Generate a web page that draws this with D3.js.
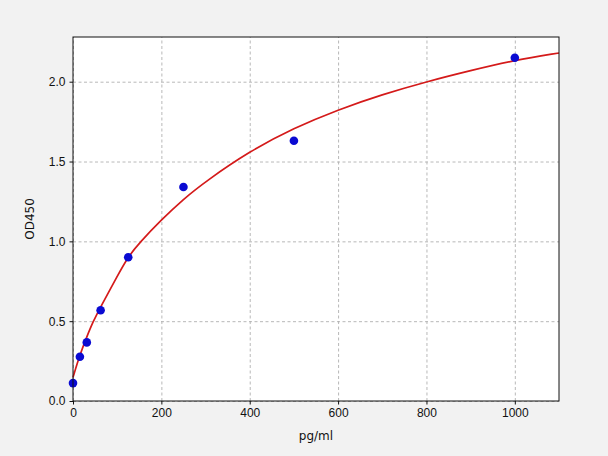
<!DOCTYPE html>
<html>
<head>
<meta charset="utf-8">
<script src="https://cdn.jsdelivr.net/npm/d3@7"></script>
<style>
  html, body { margin: 0; padding: 0; background: #f2f2f2; }
  svg { display: block; font-family: "DejaVu Sans", sans-serif; }
  .grid line { stroke: #b0b0b0; stroke-dasharray: 3,2.5; stroke-width: 0.9; }
  .grid path { display: none; }
  .tick text { font-size: 12px; fill: #111; }
</style>
</head>
<body>
<svg width="608" height="456"></svg>
<script>
// standard points
const conc = [0, 15.6, 31.25, 62.5, 125, 250, 500, 1000];
const od = [0.112, 0.277, 0.367, 0.568, 0.90, 1.34, 1.63, 2.15];

// fitted curve, sampled by eye along the red line
const fitX = [0, 15, 31, 45, 62.5, 100, 125, 150, 200, 250, 300, 400, 500, 600, 700, 800, 900, 1000, 1100];
const fitY = [0.148, 0.285, 0.40, 0.495, 0.59, 0.78, 0.905, 0.99, 1.135, 1.265, 1.375, 1.565, 1.71, 1.825, 1.92, 2.0, 2.07, 2.135, 2.18];

const xTicks = [0, 200, 400, 600, 800, 1000];
const yTicks = [0.0, 0.5, 1.0, 1.5, 2.0];

var margin = {top: 37, right: 49, bottom: 55, left: 73};

var svg = d3.select("svg");
var W = +svg.attr("width") - margin.left - margin.right;
var H = +svg.attr("height") - margin.top - margin.bottom;

var g = svg.append("g")
    .attr("transform", "translate(" + margin.left + "," + margin.top + ")");

var x = d3.scaleLinear().domain([0, 1100]).range([0, W]);
var y = d3.scaleLinear().domain([0, 2.28]).range([H, 0]);

// plot background
g.append("rect")
    .attr("width", W)
    .attr("height", H)
    .attr("fill", "#fff");

// grid
g.append("g")
    .attr("class", "grid")
    .attr("transform", "translate(0," + H + ")")
    .call(d3.axisBottom(x).tickValues(xTicks).tickSize(-H).tickFormat(""));
g.append("g")
    .attr("class", "grid")
    .call(d3.axisLeft(y).tickValues(yTicks).tickSize(-W).tickFormat(""));

// fitted curve
var line = d3.line()
    .x((d, i) => x(fitX[i]))
    .y(d => y(d))
    .curve(d3.curveBasis);

g.append("path")
    .datum(fitY)
    .attr("d", line)
    .attr("fill", "none")
    .attr("stroke", "#d41a1a")
    .attr("stroke-width", 1.7);

// points
g.selectAll(".pt")
    .data(od)
    .enter()
    .append("circle")
        .attr("class", "pt")
        .attr("cx", (d, i) => x(conc[i]))
        .attr("cy", d => y(d))
        .attr("r", 4.3)
        .attr("fill", "#0a0ad2");

// frame
g.append("rect")
    .attr("width", W)
    .attr("height", H)
    .attr("fill", "none")
    .attr("stroke", "#111")
    .attr("stroke-width", 1);

// axes
var xa = g.append("g")
    .attr("transform", "translate(0," + H + ")")
    .call(d3.axisBottom(x).tickValues(xTicks).tickSize(3.5).tickPadding(4).tickFormat(d3.format("d")));
var ya = g.append("g")
    .call(d3.axisLeft(y).tickValues(yTicks).tickSize(3.5).tickPadding(4).tickFormat(d3.format(".1f")));
[xa, ya].forEach(a => {
    a.select(".domain").remove();
    a.selectAll(".tick line").attr("stroke", "#111");
});

// labels
g.append("text")
    .attr("x", W / 2)
    .attr("y", H + 39)
    .attr("text-anchor", "middle")
    .attr("font-size", "12px")
    .attr("fill", "#111")
    .text("pg/ml");

g.append("text")
    .attr("transform", "rotate(-90)")
    .attr("x", -H / 2)
    .attr("y", -39)
    .attr("text-anchor", "middle")
    .attr("font-size", "12px")
    .attr("fill", "#111")
    .text("OD450");
</script>
</body>
</html>
